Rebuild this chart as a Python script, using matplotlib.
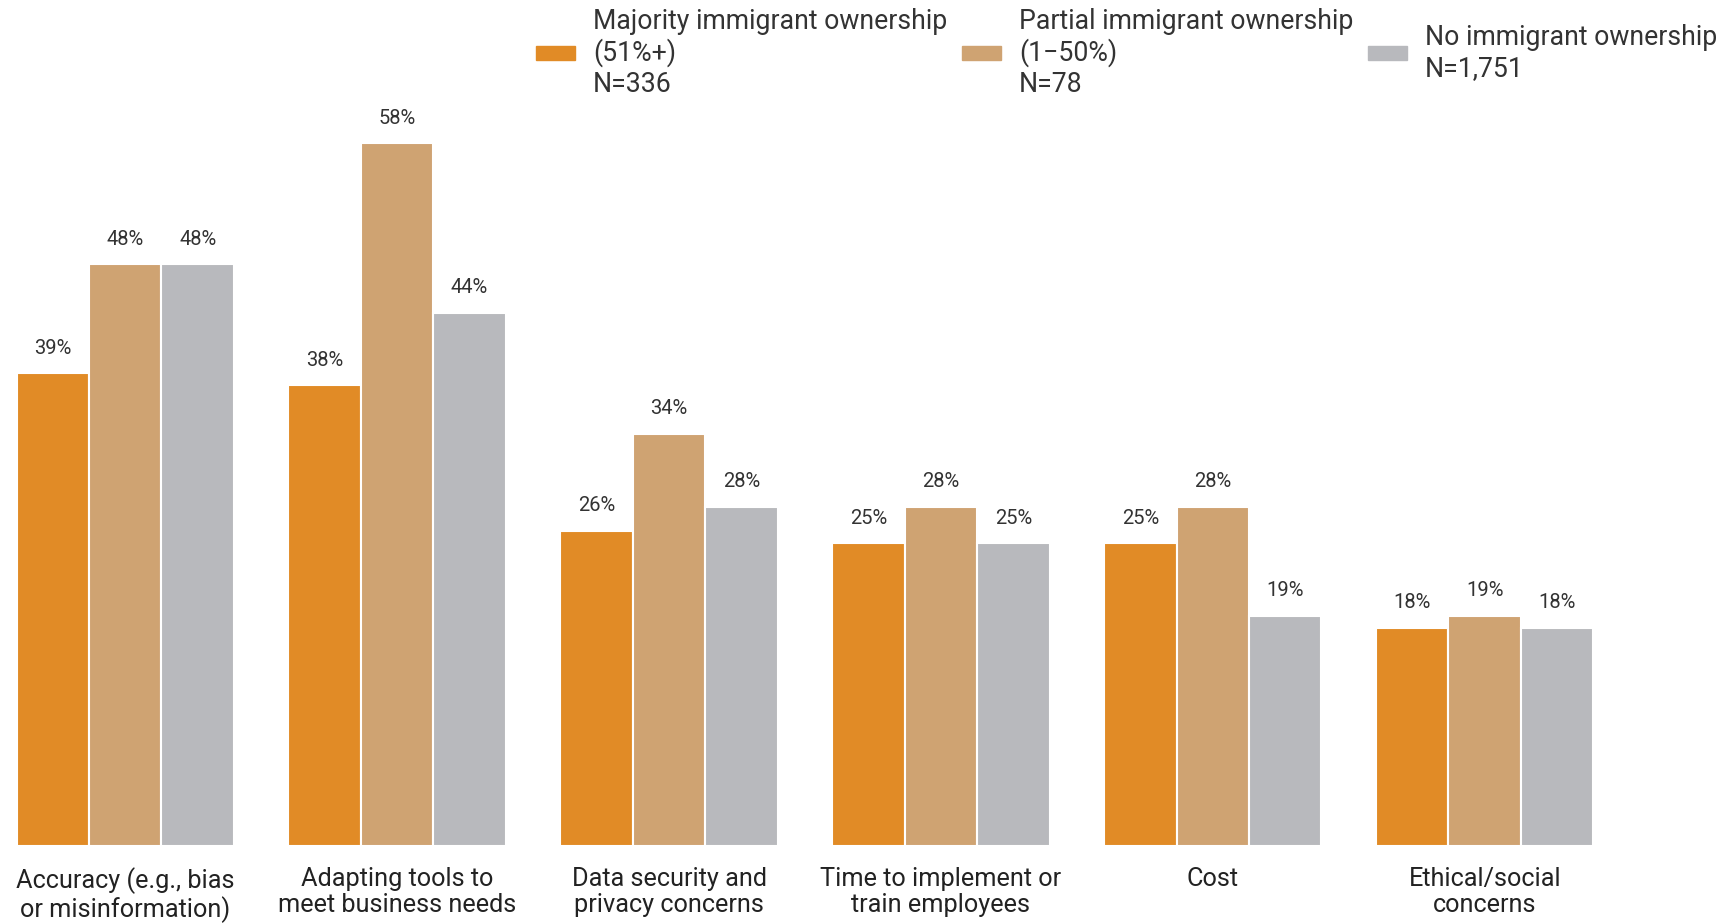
import matplotlib.pyplot as plt
import matplotlib.patches as mpatches
import numpy as np

plt.rcParams['font.family'] = ['Roboto', 'DejaVu Sans']

categories = ['Accuracy (e.g., bias\nor misinformation)', 'Adapting tools to\nmeet business needs',
              'Data security and\nprivacy concerns', 'Time to implement or\ntrain employees',
              'Cost', 'Ethical/social\nconcerns']
majority = [39, 38, 26, 25, 25, 18]
partial = [48, 58, 34, 28, 28, 19]
no_imm = [48, 44, 28, 25, 19, 18]
series_labels = ['Majority immigrant ownership\n(51%+)\nN=336',
                 'Partial immigrant ownership\n(1\u221250%)\nN=78',
                 'No immigrant ownership\nN=1,751']
colors = ['#E18B26', '#CFA372', '#B8B9BD']

W, H = 1729, 923
fig = plt.figure(figsize=(W / 100, H / 100), dpi=100)

# axes in pixels: baseline at y=846, group spacing ~272px, first center at 125px
base_y = 846
top_y = base_y - 60 * 12.12
gs = 271.9
c0 = 125.2
ax = fig.add_axes([0, (H - base_y) / H, 1, (base_y - top_y) / H])
ax.set_xlim(-c0 / gs, (W - c0) / gs)
ax.set_ylim(0, 60)

x = np.arange(len(categories))
bw = 0.2665
for i, (vals, c) in enumerate(zip([majority, partial, no_imm], colors)):
    pos = x + (i - 1) * bw
    ax.bar(pos, vals, width=bw, color=c, edgecolor='white', linewidth=1.5)
    for xp, v in zip(pos, vals):
        ax.annotate(f'{v}%', (xp, v), xytext=(0, 18), textcoords='offset points',
                    ha='center', va='center', fontsize=14.5, color='#333333')

for s in ax.spines.values():
    s.set_visible(False)
ax.set_yticks([])
ax.set_xticks(x)
ax.set_xticklabels(categories, fontsize=18.2, color='#222222', linespacing=1.14)
ax.tick_params(axis='x', length=0, pad=15)

# legend drawn by hand
leg_handles_x = [536, 962, 1368]
leg_text_x = [593, 1019, 1425]
leg_y = 53
for hx, tx, lab, c in zip(leg_handles_x, leg_text_x, series_labels, colors):
    fig.patches.append(mpatches.Rectangle((hx / W, 1 - (leg_y + 7) / H), 39 / W, 14 / H,
                                          transform=fig.transFigure, color=c))
    fig.text(tx / W, 1 - leg_y / H, lab, fontsize=19.2, color='#333333',
             ha='left', va='center', linespacing=1.15)

fig.savefig('out.png', dpi=100)
